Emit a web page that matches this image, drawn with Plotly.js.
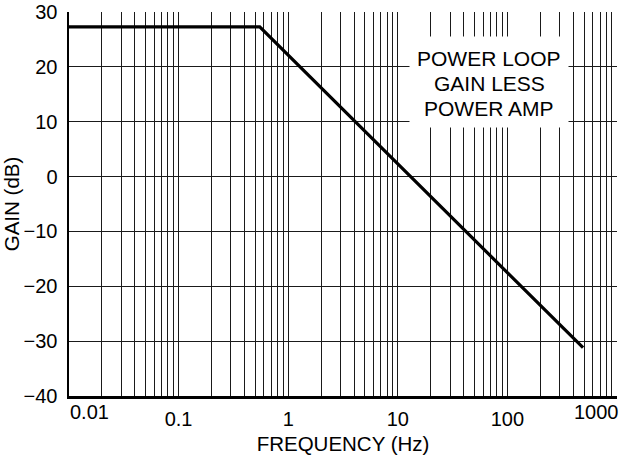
<!DOCTYPE html>
<html>
<head>
<meta charset="utf-8">
<script src="https://cdn.plot.ly/plotly-3.0.1.min.js"></script>
<style>html,body{margin:0;padding:0;background:#fff}#chart{width:625px;height:458px}</style>
</head>
<body>
<div id="chart"></div>
<script>
// Data
const freqHz = [0.01, 0.55, 490];
const gainDb = [27.3, 27.3, -31.2];

const decadeLabels = ['0.01', '0.1', '1', '10', '100', '1000'];
const decades = [0.01, 0.1, 1, 10, 100, 1000];
const yTicks = [30, 20, 10, 0, -10, -20, -30, -40];
const noteLines = ['POWER LOOP', 'GAIN LESS', 'POWER AMP'];

// log grid positions (1..9 per decade) with labels only on inner decades
const xTickVals = [];
const xTickText = [];
decades.forEach((d, i) => {
  const maxK = (i === decades.length - 1) ? 1 : 9;
  for (let k = 1; k <= maxK; k++) {
    xTickVals.push(d * k);
    xTickText.push(k === 1 && i > 0 && i < decades.length - 1 ? decadeLabels[i] : '');
  }
});

const FONT = 'Liberation Sans, Arial, Helvetica, sans-serif';
const GRID = '#1a1a1a';
const FS = 20;

const trace = {
  x: freqHz, y: gainDb, type: 'scatter', mode: 'lines',
  line: {color: '#000', width: 3.2}, hoverinfo: 'skip', showlegend: false
};

const noteX = Math.log10(68);
const noteYs = [21.6, 17.05, 12.5];

const annotations = [
  {xref: 'x', yref: 'y', x: Math.log10(decades[0]), y: -40, text: decadeLabels[0],
   showarrow: false, xanchor: 'left', yanchor: 'top', yshift: -3, xshift: -1, font: {size: FS}},
  {xref: 'x', yref: 'y', x: Math.log10(decades[5]), y: -40, text: decadeLabels[5],
   showarrow: false, xanchor: 'right', yanchor: 'top', yshift: -3, xshift: 4, font: {size: FS}},
  {xref: 'x', yref: 'y', x: noteX, y: 17.25, text: ' ',
   showarrow: false, bgcolor: '#fff', width: 156, height: 88, borderpad: 1}
];
noteLines.forEach((t, i) => annotations.push({
  xref: 'x', yref: 'y', x: noteX, y: noteYs[i], text: t, showarrow: false,
  xanchor: 'center', yanchor: 'middle', font: {size: 21}
}));

const layout = {
  width: 625, height: 458,
  margin: {l: 69, r: 8, t: 12, b: 62},
  paper_bgcolor: '#fff', plot_bgcolor: '#fff',
  font: {family: FONT, size: FS, color: '#000'},
  xaxis: {
    type: 'log', range: [-2, 3],
    tickmode: 'array', tickvals: xTickVals, ticktext: xTickText,
    showgrid: true, gridcolor: GRID, gridwidth: 1,
    ticks: '', showline: true, linecolor: '#000', linewidth: 2.5,
    zeroline: false, tickfont: {size: FS}, ticklabelstandoff: 3,
    title: {text: 'FREQUENCY (Hz)', font: {size: 20.5}, standoff: 8}
  },
  yaxis: {
    range: [-40, 30], tickmode: 'array', tickvals: yTicks,
    showgrid: true, gridcolor: GRID, gridwidth: 1,
    ticks: '', showline: true, linecolor: '#000', linewidth: 2.5,
    zeroline: false, tickfont: {size: FS}, ticklabelstandoff: 5,
    title: {text: 'GAIN (dB)', font: {size: 20.5}, standoff: 4}
  },
  annotations: annotations
};

Plotly.newPlot('chart', [trace], layout, {staticPlot: true, displayModeBar: false});
</script>
</body>
</html>
